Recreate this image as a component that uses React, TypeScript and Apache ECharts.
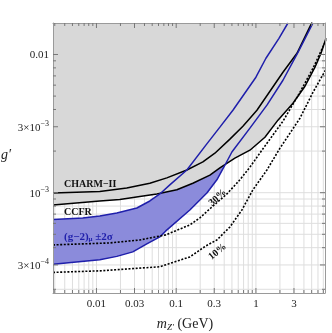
import React, { useEffect, useRef } from 'react';
import * as echarts from 'echarts';

// axis ranges
const X_MIN = 0.00285;
const X_MAX = 7.35;
const Y_MIN = 1.88e-4;
const Y_MAX = 0.0169;

// ticks
const X_TICKS = [0.003, 0.004, 0.005, 0.006, 0.007, 0.008, 0.009, 0.01, 0.02, 0.03, 0.04, 0.05, 0.06, 0.07, 0.08, 0.09, 0.1, 0.2, 0.3, 0.4, 0.5, 0.6, 0.7, 0.8, 0.9, 1, 2, 3, 4, 5, 6, 7];
const X_LABEL_VALUES = [0.01, 0.03, 0.1, 0.3, 1, 3];
const X_LABEL_TEXTS = ['0.01', '0.03', '0.1', '0.3', '1', '3'];
const Y_TICKS = [2e-4, 3e-4, 4e-4, 5e-4, 6e-4, 7e-4, 8e-4, 9e-4, 1e-3, 2e-3, 3e-3, 4e-3, 5e-3, 6e-3, 7e-3, 8e-3, 9e-3, 0.01];
const Y_LABEL_VALUES = [3e-4, 1e-3, 3e-3, 0.01];
const Y_LABEL_TEXTS = ['3×10{sup|−4}', '10{sup|−3}', '3×10{sup|−3}', '0.01'];

// CHARM-II bound
const CHARM_X = [0.00285, 0.0110, 0.0240, 0.0467, 0.0763, 0.1361, 0.2161, 0.3056, 0.4717, 0.6867, 1.029, 1.499, 2.183, 3.272, 5.048];
const CHARM_Y = [0.000995, 0.00102, 0.00108, 0.00117, 0.00128, 0.00146, 0.00167, 0.00193, 0.00244, 0.00303, 0.00395, 0.00542, 0.00744, 0.0102, 0.01708];

// CCFR bound
const CCFR_X = [0.00285, 0.0110, 0.0196, 0.0350, 0.0572, 0.1019, 0.1618, 0.2646, 0.3532, 0.5447, 0.8407, 1.297, 1.889, 2.914, 4.123, 5.505, 6.55, 7.57];
const CCFR_Y = [0.000815, 0.000871, 0.000893, 0.000939, 0.000979, 0.00105, 0.00117, 0.00134, 0.00151, 0.00178, 0.00203, 0.00252, 0.00335, 0.00444, 0.00589, 0.00809, 0.0102, 0.01309];

// (g-2)_mu +-2 sigma band
const G2_UP_X = [0.00285, 0.00673, 0.0110, 0.0180, 0.0321, 0.0467, 0.0623, 0.0832, 0.1361, 0.2356, 0.3532, 0.5143, 1.0, 1.335, 1.944, 2.522];
const G2_UP_Y = [0.00064, 0.000657, 0.000679, 0.000714, 0.000775, 0.000871, 0.000979, 0.00114, 0.00146, 0.00221, 0.00298, 0.00395, 0.00685, 0.00939, 0.01309, 0.0169];
const G2_LO_X = [0.00285, 0.0110, 0.0180, 0.02855, 0.0428, 0.0623, 0.0741, 0.1483, 0.2425, 0.3238, 0.4081, 0.4996, 0.8407, 1.374, 2.183, 3.367, 5.195];
const G2_LO_Y = [0.000303, 0.000327, 0.000346, 0.000373, 0.000426, 0.000479, 0.000529, 0.00075, 0.000995, 0.00124, 0.00158, 0.00197, 0.00293, 0.0043, 0.00651, 0.01037, 0.0169];

// 30% and 10% contours
const C30_X = [0.00285, 0.01469, 0.0350, 0.0741, 0.1483, 0.1981, 0.2803, 0.4324, 0.6296, 0.8407, 1.189, 2.183, 3.568, 5.195, 7.57];
const C30_Y = [0.000419, 0.000433, 0.000455, 0.000495, 0.000585, 0.000657, 0.000788, 0.000979, 0.00124, 0.00153, 0.00203, 0.00329, 0.00533, 0.00795, 0.01266];
const C10_X = [0.00285, 0.0110, 0.0623, 0.1483, 0.2356, 0.3238, 0.4717, 0.6672, 0.917, 1.374, 2.001, 3.568, 5.195, 7.57];
const C10_Y = [0.000265, 0.000272, 0.000291, 0.000343, 0.000412, 0.000455, 0.000565, 0.00075, 0.00105, 0.00146, 0.0021, 0.00346, 0.00533, 0.00782];

const zip = (xs: number[], ys: number[]) => xs.map((x, i) => [x, ys[i]]);

const SERIF = '"Liberation Serif", "DejaVu Serif", serif';
const BLUE = '#1f1fab';

export default function App() {
  const ref = useRef<HTMLDivElement>(null);
  useEffect(() => {
    if (!ref.current) return;
    const chart = echarts.init(ref.current, undefined, { renderer: 'svg' });
    const hiddenAxis = {
      type: 'log', logBase: 10, z: 10,
      axisLine: { show: true, lineStyle: { color: '#9a9a9a', width: 1 } },
      axisTick: { show: false }, axisLabel: { show: false }, splitLine: { show: false },
    };
    const lineSeries = (name: string, xs: number[], ys: number[], color: string, dotted: boolean, z: number) => ({
      type: 'line', name, data: zip(xs, ys), showSymbol: false, symbol: 'none', smooth: false,
      clip: true, silent: true, z,
      lineStyle: { color, width: dotted ? 1.6 : 1.5, type: dotted ? [2, 1.6] : 'solid' },
    });
    chart.setOption({
      animation: false,
      grid: { left: 53, right: 7, top: 23, bottom: 40 },
      xAxis: [
        { ...hiddenAxis, min: X_MIN, max: X_MAX, position: 'bottom' },
        { ...hiddenAxis, min: X_MIN, max: X_MAX, position: 'top' },
      ],
      yAxis: [
        { ...hiddenAxis, min: Y_MIN, max: Y_MAX, position: 'left' },
        { ...hiddenAxis, min: Y_MIN, max: Y_MAX, position: 'right' },
      ],
      series: [
        {
          type: 'custom', name: 'xgrid', z: 1, silent: true,
          data: X_TICKS.map((v) => [v, Y_MIN]),
          encode: { x: 0, y: 1 },
          renderItem: (params: any, api: any) => {
            const v = api.value(0);
            const b = api.coord([v, Y_MIN]);
            const t = api.coord([v, Y_MAX]);
            return { type: 'line', shape: { x1: b[0], y1: b[1], x2: t[0], y2: t[1] }, style: { stroke: '#dedede', lineWidth: 1 } };
          },
        },
        {
          type: 'custom', name: 'ygrid', z: 1, silent: true,
          data: Y_TICKS.map((v) => [X_MIN, v]),
          encode: { x: 0, y: 1 },
          renderItem: (params: any, api: any) => {
            const v = api.value(1);
            const l = api.coord([X_MIN, v]);
            const r = api.coord([X_MAX, v]);
            return { type: 'line', shape: { x1: l[0], y1: l[1], x2: r[0], y2: r[1] }, style: { stroke: '#dedede', lineWidth: 1 } };
          },
        },
        {
          type: 'custom', name: 'band', z: 2, silent: true, clip: true,
          data: [[X_MIN, Y_MIN]],
          encode: { x: 0, y: 1 },
          renderItem: (params: any, api: any) => {
            const pts = [...zip(G2_UP_X, G2_UP_Y), ...zip(G2_LO_X, G2_LO_Y).reverse()].map((p) => api.coord(p));
            return { type: 'polygon', shape: { points: pts }, style: { fill: '#8b8bdb', stroke: 'none' } };
          },
        },
        {
          ...lineSeries('CCFR', CCFR_X, CCFR_Y, '#000', false, 3),
          areaStyle: { color: '#d8d8d8', opacity: 1, origin: 'end' },
        },
        lineSeries('CHARM-II', CHARM_X, CHARM_Y, '#000', false, 4),
        lineSeries('g2up', G2_UP_X, G2_UP_Y, BLUE, false, 4),
        lineSeries('g2lo', G2_LO_X, G2_LO_Y, BLUE, false, 4),
        lineSeries('30%', C30_X, C30_Y, '#000', true, 4),
        lineSeries('10%', C10_X, C10_Y, '#000', true, 4),
        {
          type: 'custom', name: 'xticks', z: 11, silent: true,
          data: X_TICKS.map((v) => [v, Y_MIN]),
          encode: { x: 0, y: 1 },
          renderItem: (params: any, api: any) => {
            const v = api.value(0);
            const b = api.coord([v, Y_MIN]);
            const t = api.coord([v, Y_MAX]);
            const idx = X_LABEL_VALUES.indexOf(v);
            const len = idx >= 0 ? 5 : 3;
            const children: any[] = [
              { type: 'line', shape: { x1: b[0], y1: b[1], x2: b[0], y2: b[1] - len }, style: { stroke: '#777', lineWidth: 1 } },
              { type: 'line', shape: { x1: t[0], y1: t[1], x2: t[0], y2: t[1] + len }, style: { stroke: '#777', lineWidth: 1 } },
            ];
            if (idx >= 0) {
              children.push({ type: 'text', x: b[0], y: b[1] + 10, style: { text: X_LABEL_TEXTS[idx], fill: '#222', font: `11px ${SERIF}`, align: 'center', verticalAlign: 'middle' } });
            }
            return { type: 'group', children };
          },
        },
        {
          type: 'custom', name: 'yticks', z: 11, silent: true,
          data: Y_TICKS.map((v) => [X_MIN, v]),
          encode: { x: 0, y: 1 },
          renderItem: (params: any, api: any) => {
            const v = api.value(1);
            const l = api.coord([X_MIN, v]);
            const r = api.coord([X_MAX, v]);
            const idx = Y_LABEL_VALUES.indexOf(v);
            const len = idx >= 0 ? 5 : 3;
            const children: any[] = [
              { type: 'line', shape: { x1: l[0], y1: l[1], x2: l[0] + len, y2: l[1] }, style: { stroke: '#777', lineWidth: 1 } },
              { type: 'line', shape: { x1: r[0], y1: r[1], x2: r[0] - len, y2: r[1] }, style: { stroke: '#777', lineWidth: 1 } },
            ];
            if (idx >= 0) {
              children.push({
                type: 'text', x: l[0] - 4, y: l[1], style: {
                  text: Y_LABEL_TEXTS[idx], fill: '#222', font: `11px ${SERIF}`, align: 'right', verticalAlign: 'middle',
                  rich: { sup: { fontSize: 8, fontFamily: SERIF, fill: '#222', verticalAlign: 'top', padding: [0, 0, 7, 0] } },
                },
              });
            }
            return { type: 'group', children };
          },
        },
      ],
      graphic: [
        { type: 'text', x: 64, y: 183, z: 20, style: { text: 'CHARM−II', font: `bold 10px ${SERIF}`, fill: '#111', verticalAlign: 'middle' } },
        { type: 'text', x: 64, y: 211, z: 20, style: { text: 'CCFR', font: `bold 10px ${SERIF}`, fill: '#111', verticalAlign: 'middle' } },
        {
          type: 'text', x: 64, y: 236, z: 20, style: {
            text: '{a|(g−2)}{s|μ}{a| ±2σ}', verticalAlign: 'middle', fill: BLUE,
            rich: {
              a: { fontSize: 11, fontWeight: 'bold', fontFamily: SERIF, fill: BLUE },
              s: { fontSize: 7, fontWeight: 'bold', fontFamily: SERIF, fill: BLUE, padding: [6, 0, 0, 0] },
            },
          },
        },
        { type: 'text', x: 217, y: 197, rotation: 0.74, z: 20, style: { text: '30%', font: `bold 10px ${SERIF}`, fill: '#111', align: 'center', verticalAlign: 'middle' } },
        { type: 'text', x: 217, y: 251, rotation: 0.7, z: 20, style: { text: '10%', font: `bold 10px ${SERIF}`, fill: '#111', align: 'center', verticalAlign: 'middle' } },
        { type: 'text', left: 1, top: 147, z: 20, style: { text: 'g′', font: `italic 14px ${SERIF}`, fill: '#222' } },
        {
          type: 'text', x: 185, y: 323, z: 20, style: {
            text: '{i|m}{s|Z′}{n| (GeV)}', align: 'center', verticalAlign: 'middle', fill: '#222',
            rich: {
              i: { fontSize: 14, fontStyle: 'italic', fontFamily: SERIF, fill: '#222' },
              s: { fontSize: 9, fontStyle: 'italic', fontFamily: SERIF, fill: '#222', padding: [8, 0, 0, 0] },
              n: { fontSize: 14, fontFamily: SERIF, fill: '#222' },
            },
          },
        },
      ],
    } as any);
    return () => chart.dispose();
  }, []);
  return <div ref={ref} style={{ position: 'fixed', left: 0, top: 0, width: 332, height: 333 }} />;
}
